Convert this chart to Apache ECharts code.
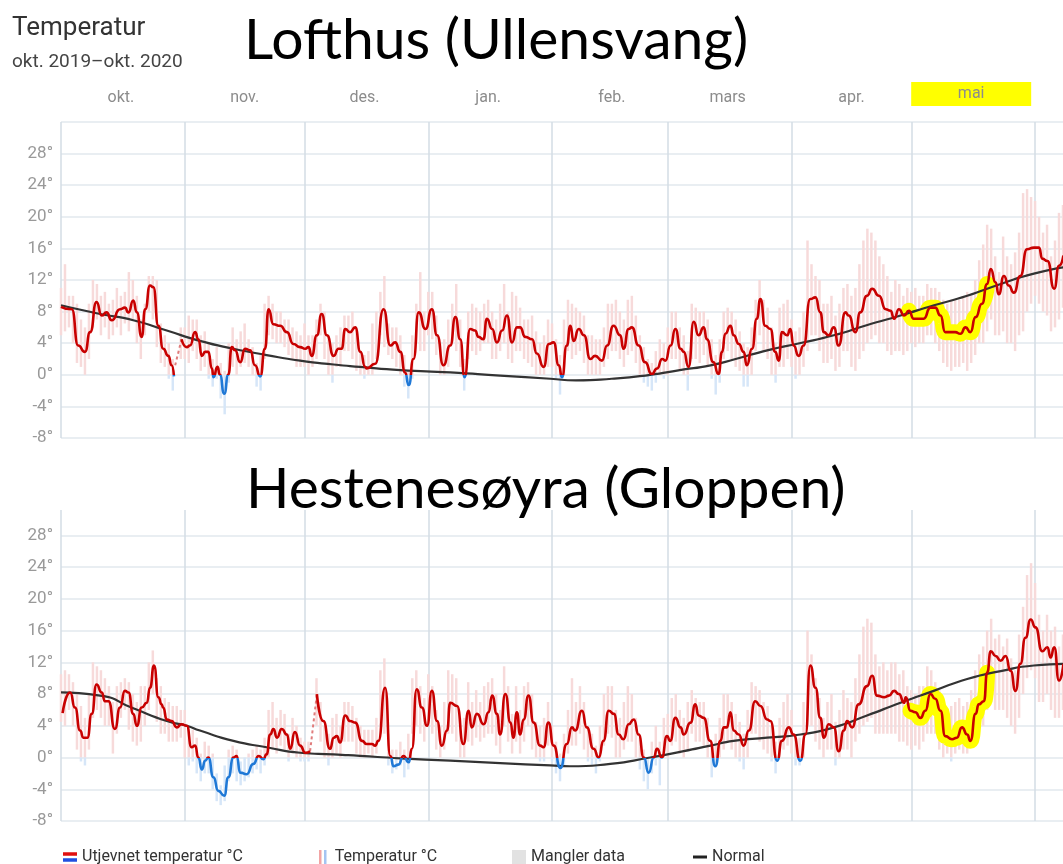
<!DOCTYPE html>
<html lang="no">
<head>
    <meta charset="UTF-8">
    <title>Temperatur - Lofthus og Hestenesøyra</title>
    <script src="https://cdn.jsdelivr.net/npm/echarts@6.0.0/dist/echarts.min.js"></script>
    <style>
        html, body { margin: 0; padding: 0; background: #fff; }
        #main { width: 1063px; height: 864px; }
    </style>
</head>
<body>
<div id="main"></div>
<script type="text/javascript">
    // dag 0 = 1. okt. 2019
    var nDays = 252;
    var monthNames = ['jan.', 'feb.', 'mars', 'apr.', 'mai', 'juni', 'juli', 'aug.', 'sep.', 'okt.', 'nov.', 'des.'];
    var mayRange = [212, 232.4];

    // Lofthus (Ullensvang): utjevnet temperatur [dag, grader]
    var lofSmooth = [[0,8.6],[2.7,8.3],[4.3,3.7],[6,2.9],[7.3,5.4],[8.9,9.2],[10.2,7.5],[11.4,7.9],[12.7,6.9],[14.8,8.3],[16,8.5],[16.9,7.9],[18.1,9.4],[19,7.9],[20.2,4.8],[21.1,8.3],[22.3,11.3],[23.1,11.1],[24.4,6.2],[25.6,3.3],[26.9,2.4],[27.7,1.2],[28.3,-0.2],[29,null],
        [30.2,4.5],[31.5,3.5],[32.3,3.7],[33.6,5.4],[34.4,4.5],[35.3,2.4],[36.1,2.9],[36.9,2.9],[37.8,0.8],[38.2,-0.3],[39.2,1.0],[39.8,0],[40.9,-2.4],[41.9,0],[42.8,3.5],[43.6,3.1],[44.9,1.6],[46.1,3.3],[47.4,3.1],[48.6,1.2],[49.9,-0.2],[51.1,3.3],[52,8.3],[53.2,6.4],[54.9,6.2],[56.6,5.4],[58.2,3.9],[59.9,3.5],
        [61.2,3.3],[62,3.5],[62.8,2.4],[64.1,5.0],[65.3,7.7],[66.6,5.0],[68.3,2.4],[69.5,3.3],[70.3,3.3],[71.2,5.8],[72.4,5.4],[73.7,6.0],[75,2.9],[76.2,1.0],[76.6,0.8],[78.7,1.4],[80.8,8.3],[82.5,3.7],[83.7,4.1],[85,2.9],[86.2,0.3],[87.1,-1.3],[88.3,2.0],[89.6,7.9],[91.3,5.8],
        [92.9,8.3],[94.2,5.0],[95.8,1.2],[97.5,3.7],[98.8,7.3],[100,4.5],[101.1,-0.3],[102.5,5.8],[103.7,5.6],[104.6,4.8],[105.8,4.5],[106.7,7.1],[108,5.8],[109.2,4.1],[110.5,5.6],[111.7,7.5],[113,4.1],[114.2,6.0],[115,6.0],[116.3,4.8],[118,4.5],[119.2,2.7],[120.9,1.0],[122.2,3.9],
        [123.4,4.1],[124.7,1.2],[125.5,-0.3],[126.7,3.7],[127.6,6.2],[128.4,4.3],[129.7,5.8],[131,5.0],[132.6,2.0],[133.8,2.4],[135.5,1.8],[136.8,3.7],[138.4,6.2],[140.1,5.0],[140.9,3.3],[142.2,5.8],[143,6.0],[144.7,3.7],[146.3,1.6],[148,0.1],[149.3,0.8],[150.6,2.0],[151.4,1.8],
        [152.7,3.7],[153.9,5.8],[155.2,3.3],[156,2.9],[157.2,1.0],[158.5,6.7],[159.7,5.0],[161,6.0],[161.8,4.5],[163.4,1.6],[164.7,0.1],[165.6,2.9],[166.4,5.2],[167.7,6.2],[168.5,5.0],[169.8,3.9],[171,2.9],[171.8,1.2],[173.1,3.3],[174.3,7.1],[175.2,9.6],[176.4,6.2],[177.7,5.8],[178.9,2.9],[179.8,1.8],[180.6,5.4],[181.9,5.0],[182.7,5.8],
        [183.5,3.7],[184.8,2.4],[186,3.7],[187.7,9.6],[189,9.8],[190.2,7.9],[191.1,5.4],[192.3,5.0],[193.6,6.0],[194.8,3.7],[196.5,7.9],[197.3,7.5],[199,5.4],[200.2,7.9],[201.9,10.0],[203.2,10.9],[204.9,10.0],[206.6,8.3],[207.8,8.1],[208.7,7.1],[209.9,8.3],[211.2,7.5],
        [212.4,8.1],[213.6,7.1],[214.9,7.1],[216.1,7.1],[217.8,8.5],[219,8.5],[220.3,7.5],[221.5,5.4],[222.8,5.4],[224,5.4],[225.3,5.2],[226.6,6.0],[227.8,5.4],[229.1,7.3],[230.7,9.0],[232,11.5],[232.9,13.4],[234.1,11.7],[234.9,10.2],[236.2,12.5],[237.4,11.3],[238.7,10.4],[240.3,12.5],[242,15.9],[243.7,16.1],
        [245,16.1],[245.8,14.7],[247.1,14.4],[248.8,10.9],[250,13.8],[251.1,15.1]];
    var lofGap = [[28.6,1.2],[30.2,4.5]];
    var lofNormal = [[0,8.8],[9.8,7.7],[18.1,6.9],[26.5,5.6],[34.8,4.3],[43.2,3.3],[51.5,2.5],[59.9,1.8],[68.3,1.3],[74.9,1.0],[85,0.6],[97.5,0.3],[110,-0.1],[122.6,-0.5],[129,-0.7],[138,-0.5],[147.6,0],[155,0.6],[162.7,1.2],[169,2.0],[176.9,3.1],[185,4.0],[193.6,5.0],[202,6.3],[210.3,7.5],[218.7,8.8],[227,10.0],[235.4,11.5],[243.7,12.8],[251.1,13.6]];
    // døgnets laveste / høyeste temperatur
    var lofLo = [5,5.5,6,4,1.5,1,0,2,6,7,5,6,4.5,5,6,5,6.5,5.5,7,4,2,5,8,7,3.5,1.5,1,-0.5,-2,null,2,
        2,1.5,3,2,0.5,1,-0.5,-1.5,-0.5,-3,-5,-1,1,0,1,1.5,1,0,-1.5,-2,2,5,4.5,4,4,3.5,2.5,2,1,1,
        1,0,1,2,5,2,0,-1,1,1,3,3,2,0.5,0,-0.5,0,0,2,5,3.5,2.5,2,1,0,-1.5,-3,-0.5,4,3,3,
        5,4.5,2.5,0,0,1,4,3,1,-2,2,3,2.5,3,4,4,2,2,3,4,2,1.5,3,3,2,1.5,1,0,0,0,1,
        1,-0.5,-2.5,0,3,2,2.5,3,1.5,0,0,0,0,1,2,3,3,2,1,2.5,3,1.5,0,-1,-1.5,-2,-1,0,-0.5,
        0,2,2,0.5,0,-2,2,2,1.5,2.5,1,-0.5,-2.5,-1,2,3,2,1,0.5,-1.5,-1.5,0,3,5,3,2,0,-1,1,1,2,
        1,-0.5,0,1,3,5,5,3,1.5,1.5,2,0.5,1,3,3,1,0.5,2,3,4,4.5,5,4,4,3,2.5,3,3,2.5,3,
        4,3.5,4,4,5,5,4,3,1.5,1,0.5,1,1,1.5,0.5,1.5,2.5,4,4,5.5,7,5,5,5.5,4,4,3,5,5.5,8,9,
        10,9,8,7.5,5.5,6,7,8.5];
    var lofHi = [11,14,10,10,9,7,6,9,12,11.5,10,10.5,9,9.5,11,10,10.5,13,12,10,7,9,12.5,12.5,12,6.5,5,4,2,null,6,
        6,7.5,7,7,5,5.5,4,2,3.5,1.5,0.5,4,6,4.5,5.5,6.5,4.5,3.5,1.5,2.5,9,10,9,8,8,7,7,6,5.5,5,
        6.5,5,5,7,9,8,5,4,5,6,7.5,7.5,8,6,3,2.5,3,6.5,8,10.5,12.5,6.5,6,6,5,2.5,0.5,5,9,13,8,
        10.5,10.5,7.5,4,4.5,7,9,11.5,7,2,8,9,8.5,8,9,9.5,8,7,9,11.5,8,10.5,10,8.5,7,7,7.5,5.5,4,5,7,
        6.5,4.5,2.5,7,9.5,9,8.5,8,7.5,5,5,4.5,4.5,6,9,9,9.5,8,7,9.5,10,7.5,5,3.5,2,1.5,3,4.5,4,
        6,8,8,6,5,3,9,8.5,8,8,7,4.5,2.5,4.5,8,8.5,8,7,5.5,4,3.5,6,9.5,12,9.5,8.5,6,4,8.5,9,9.5,
        7,5.5,6,8,17,14,12.5,12,9,9,10,7.5,9,11,11.5,10,11,14,17,18.5,18,17,15,14,12.5,10.5,12,11.5,10,11,
        10.5,11,10,10,11.5,11,11,10.5,9.5,9,9.5,9.5,9.5,10,10.5,10,12,14.5,16.5,19,18.5,15,13,17.5,15,14,15.5,18,23,23.5,22.5,
        22,20,18,19,15,17,20.5,21.5];

    // Hestenesøyra (Gloppen)
    var hesSmooth = [[0.4,5.6],[2.3,8.2],[3.5,6.3],[4.8,3.4],[5.6,2.5],[6.6,2.5],[7.7,5.5],[8.9,9.2],[10.2,8.2],[11,7.1],[11.9,7.1],[13.5,3.6],[14.8,6.3],[16,8.4],[16.9,8.2],[18.1,5.5],[19,4.0],[20.2,6.3],[21.5,6.9],[22.3,8.8],[23.3,11.6],[24.4,7.6],[25.2,6.7],[25.6,6.3],[26.5,4.8],[27.7,4.6],[29,3.8],[30.2,4.2],
        [31.5,4.0],[32.7,1.3],[33.6,1.5],[34.4,0],[35.3,-1.5],[36.1,-0.4],[36.9,0],[38.2,-2.5],[39.4,-4.2],[40.9,-4.8],[41.9,-2.5],[43.2,0],[44,0.2],[44.9,-1.9],[46.5,-2.1],[48.2,-0.8],[49.5,0.2],[50.7,-0.2],[51.5,0.4],[52.4,2.9],[53.2,3.6],[54.1,2.5],[55.3,3.6],[56.6,2.9],[57.4,1.1],[58.6,3.2],[59.9,1.5],
        [61.2,0.6],[62.4,0.8],[63,null],[64.1,8.0],[65.7,4.6],[67.4,1.1],[68.3,2.5],[69.1,2.7],[69.9,1.9],[71.2,5.3],[72.4,4.6],[73.7,4.4],[75.4,2.1],[76.6,1.7],[77.9,1.7],[78.7,1.5],[79.5,2.1],[81.2,8.8],[82.5,0.2],[83.3,-1.1],[84.5,-0.9],[85.8,0.2],[87.1,-0.6],[87.9,1.1],[89.1,8.6],[90.4,6.3],[91.7,4.0],
        [92.9,8.4],[94.2,4.6],[95.4,1.5],[96.7,3.4],[97.5,6.9],[99.2,6.5],[100.8,1.7],[102.1,5.9],[102.9,3.8],[104.2,5.5],[105.9,4.2],[107.1,5.7],[108,7.8],[109.2,5.5],[110,2.9],[111.3,8.0],[112.6,4.4],[113.3,2.5],[114.2,5.7],[115,2.9],[115.9,4.8],[117.1,7.8],[118.4,4.4],[120,1.5],[120.9,1.3],[122.1,4.4],
        [123.4,1.5],[125.1,-1.3],[126.7,1.7],[128,3.8],[128.8,3.4],[130.5,5.9],[131.7,3.8],[133.4,1.1],[134.7,0],[135.9,2.1],[137.2,5.9],[138.5,5.5],[139.7,2.9],[140.9,2.3],[142.2,4.2],[143.5,4.8],[144.7,2.9],[146,0],[147.2,-1.9],[148.5,0],[149.3,1.1],[150.5,0],[151.8,2.7],
        [152.6,2.1],[153.9,5.0],[155.2,3.8],[156,2.9],[157.7,4.4],[158.9,6.7],[159.7,5.3],[161,5.0],[162.6,2.1],[163.9,-1.1],[165.2,2.1],[166,3.8],[166.8,3.8],[167.7,5.7],[168.5,3.4],[169.8,2.9],[171,1.5],[172.3,3.4],[173.9,7.1],[175.2,6.5],[176.9,4.8],[177.7,4.6],[179.4,-0.4],[180.6,2.1],[182.3,3.8],
        [183.5,2.9],[185.2,-0.4],[186.5,2.9],[187.7,11.6],[189,8.8],[190.2,5.0],[191.1,2.5],[192.3,4.2],[193.6,3.8],[194.8,0.8],[196.1,3.4],[196.9,4.6],[198.2,3.8],[199.8,6.7],[201.9,9.0],[203.2,10.3],[204.4,7.8],[206.2,7.6],[207.4,7.8],[208.7,8.4],[209.9,8.0],[211.2,6.9],[211.6,7.6],
        [212.8,5.9],[214,5.7],[215.3,5.0],[216.5,5.9],[217.8,8.0],[219,7.4],[220.3,5.9],[221.5,2.7],[223.2,2.3],[224.4,2.5],[225.7,3.8],[227,2.9],[227.8,2.1],[229.1,5.5],[229.9,6.7],[231.2,7.1],[232,10.7],[232.9,13.4],[234.1,12.8],[235.4,12.2],[236.6,12.8],[237.9,10.9],[239.1,8.4],[240.3,11.8],[241.6,15.1],[242.9,17.4],
        [244.1,16.4],[245.8,13.4],[247.1,13.9],[247.9,12.6],[248.8,13.9],[250,9.7],[251.1,11.8]];
    var hesGap = [[62.4,0.8],[64.1,8.0]];
    var hesNormal = [[0,8.2],[9.8,7.8],[18.1,6.2],[26.5,4.6],[31.5,4.0],[34.8,3.4],[43.2,2.1],[51.5,1.3],[59.9,0.6],[68.3,0.4],[74.9,0.2],[85,-0.1],[97.5,-0.4],[110,-0.7],[122.6,-1.0],[127.5,-1.1],[137.6,-0.8],[147.6,0],[156,0.8],[162.7,1.5],[168.5,2.1],[176.9,2.5],[185.2,2.9],[193.6,3.8],[201.9,5.3],[210.3,6.9],[218.6,8.4],[227,9.9],[235.4,10.9],[243.7,11.6],[251.1,11.8]];
    var hesLo = [4.5,4,6,4,1,-0.5,-1,1,5,6,5,4,4,0.5,3,5,6,3.5,2,1.5,2,4,6,8,4.5,3,3,2,2,2,2.5,
        0,-1,-0.5,-2,-3,-2,-2,-4,-5.5,-6,-5.5,-3,-2,-3,-3.5,-3,-2.5,-2,-1.5,-2,-1,0,1,0.5,1.5,1,-0.5,0.5,0,-0.5,
        -0.5,-0.5,null,4,2,0,-1,0,0.5,0,2,2,2,0.5,0,0,0.5,0,0.5,4,3,-1,-2,-1.5,-1,-2.5,-1.5,3,4,3,2,
        4,3,1,0,1,3,3,2,0,0,2,1.5,2.5,2,2.5,3,3,1.5,0.5,4,2,0.5,2,0.5,2,4,1,0,-0.5,-0.5,1.5,
        -0.5,-2,-3,-1,0.5,1.5,1.5,3,1,-0.5,-1,-2,-0.5,1.5,3,2.5,0,0,1,2,2,0,-1.5,-3,-4,-2,-1,-3.5,0,
        0,1.5,2,0.5,0,1,3,2,2,1.5,0,-2.5,-1,0,1,2,1,0,-0.5,-1.5,0,3,3,2,1,0.5,-0.5,-2,0,1,1.5,
        0.5,-1,-1,0,4,4,2,1,0,1,1,-1,0,1,1,0,2,3,4,4.5,5,3,3,3,3,3,3,2,2,1.5,
        1,1.5,1,2,3,3,3,1,0,0.5,-0.5,0.5,1,0.5,0.5,2,3,4,4,6,7,6,6,6,5,4,3,5,8,10,11,
        10,7,7,8,6,5,5,6];
    var hesHi = [10.5,11,10.5,9.5,8,6.5,5,8,12,11.5,11,10,9,7,9,9.5,10,9.5,8,7,9,9,12,13.5,10,9,7.5,7,6.5,6.5,6,
        6,4,3.5,2.5,0.5,2,1.5,0.5,-2,-3.5,-1,1,1.5,1,-0.5,0,0.5,1,1.5,1,2.5,6,7,5,6,5.5,3,5,4,2.5,
        2,2,null,10,7,4,3,5,5.5,4,7,7,6.5,5,4,3.5,3.5,3.5,5,11,12.5,3,1,1,2,1,3,10,11,9,7.5,
        10.5,9,6,4,7,11,10.5,10,5,5,9.5,7,8.5,7,9,9.5,10,8,6,11.5,9,5.5,9,6,9,9.5,8,4.5,4,5,7,
        4,2,0.5,3,6,10,7,9,7,4,3,1.5,4,8,9,9,6,5,7,9,8,5,2.5,1,0,2,4,2,5,
        5.5,7.5,8,6,5,7,8.5,7.5,7,7,5,2,3,5,8,8,7,5.5,4.5,3,6,9.5,9,8.5,7,6.5,4,2,5,7,8,
        6,3,2.5,7,16,13,10,7.5,5,7,8,4.5,6,8.5,7.5,7,10,13,16.5,17.5,17,13,11.5,12,11,12,12,10.5,11,9,
        8.5,8,9,9,11.5,11,9.5,8.5,6,6,6.5,7,7.5,6.5,7,8.5,11,13,14,16,17.5,15,15.5,14,15,12.5,11,15.5,19,23,24.5,
        22,18,16,18,16,16.5,14,15.5];

    var font = 'Roboto, "Liberation Sans", Arial, sans-serif';
    var warm = '#c80000', cold = '#1f78d6';
    var days = [];
    for (var i = 0; i < nDays; i++) {
        days.push(new Date(2019, 9, 1 + i));
    }
    var dayCats = days.map(function (d) {
        return d.getFullYear() + '-' + (d.getMonth() + 1) + '-' + d.getDate();
    });

    function rangeData(lo, hi) {
        var out = [];
        for (var i = 0; i < lo.length; i++) {
            if (lo[i] != null && hi[i] != null) out.push([i, lo[i], hi[i]]);
        }
        return out;
    }
    function mayPart(points) {
        return points.filter(function (p) {
            return p[1] != null && p[0] >= mayRange[0] && p[0] <= mayRange[1];
        });
    }
    function renderRange(params, api) {
        var x = api.value(0), lo = api.value(1), hi = api.value(2);
        var w = api.size([1, 0])[0] * 0.62;
        var cx = api.coord([x, 0])[0];
        var y0 = api.coord([x, 0])[1];
        var yLo = api.coord([x, lo])[1];
        var yHi = api.coord([x, hi])[1];
        var kids = [];
        if (hi > 0) {
            var bot = lo > 0 ? yLo : y0;
            kids.push({type: 'rect', shape: {x: cx - w / 2, y: yHi, width: w, height: bot - yHi}, style: {fill: '#f7dada'}});
        }
        if (lo < 0) {
            var top = hi < 0 ? yHi : y0;
            kids.push({type: 'rect', shape: {x: cx - w / 2, y: top, width: w, height: yLo - top}, style: {fill: '#d6e6f8'}});
        }
        return {type: 'group', children: kids};
    }

    function xCat(grid, labels) {
        return {
            type: 'category', gridIndex: grid, data: dayCats, boundaryGap: false, position: 'top',
            axisLine: {show: false}, axisTick: {show: false},
            axisLabel: labels ? {
                show: true, margin: 16, color: '#8c8c8c', fontSize: 16, fontFamily: font,
                interval: function (i) { return days[i].getDate() === 16; },
                formatter: function (v, i) {
                    var m = monthNames[days[i].getMonth()];
                    return m === 'mai' ? '{hl|' + m + '}' : m;
                },
                rich: {hl: {backgroundColor: '#ffff00', width: 120, height: 24, align: 'center', color: '#8c8c8c', fontSize: 16, fontFamily: font}}
            } : {show: false},
            splitLine: {
                show: true,
                interval: function (i) { return days[i].getDate() === 1; },
                lineStyle: {color: '#d3dce5', width: 1.5}
            }
        };
    }
    function xVal(grid) {
        return {type: 'value', gridIndex: grid, min: 0, max: nDays - 1, show: false};
    }
    function yAx(grid, max) {
        return {
            type: 'value', gridIndex: grid, min: -8, max: max, interval: 4,
            axisLine: {show: false}, axisTick: {show: false},
            axisLabel: {
                color: '#999', fontSize: 17, fontFamily: font, margin: 8, showMaxLabel: false,
                formatter: function (v) { return (v % 4 === 0 && v < 32) ? v + '°' : ''; }
            },
            splitLine: {lineStyle: {color: '#e2e8ee', width: 1.5}, showMaxLine: grid === 0}
        };
    }
    function barSeries(lo, hi, xi, yi) {
        return {type: 'custom', name: 'Temperatur °C', xAxisIndex: xi, yAxisIndex: yi, data: rangeData(lo, hi),
            encode: {x: 0, y: [1, 2]}, renderItem: renderRange, silent: true, z: 1};
    }
    function yellowSeries(points, xi, yi) {
        return {type: 'line', name: 'mai', xAxisIndex: xi, yAxisIndex: yi, data: mayPart(points), smooth: 0.6,
            smoothMonotone: 'x', symbol: 'none', silent: true, z: 2,
            lineStyle: {color: '#ffff00', width: 16, cap: 'round', join: 'round'}};
    }
    function normalSeries(points, xi, yi) {
        return {type: 'line', name: 'Normal', xAxisIndex: xi, yAxisIndex: yi, data: points, smooth: 0.6, symbol: 'none',
            lineStyle: {color: '#333', width: 2.2}, itemStyle: {color: '#333'}, z: 4};
    }
    function gapSeries(points, xi, yi) {
        return {type: 'line', name: 'Mangler data', xAxisIndex: xi, yAxisIndex: yi, data: points, symbol: 'none',
            lineStyle: {color: '#e07c7c', width: 2, type: [3, 3]}, itemStyle: {color: '#ddd'}, z: 3};
    }
    function smoothSeries(id, points, xi, yi) {
        return {type: 'line', id: id, name: 'Utjevnet temperatur °C', xAxisIndex: xi, yAxisIndex: yi, data: points,
            smooth: 0.6, smoothMonotone: 'x', symbol: 'none', lineStyle: {width: 2.6, color: warm, join: 'round'}, itemStyle: {color: warm}, z: 5};
    }
    function leg(name, left, icon, color) {
        return {
            left: left, top: 849, padding: 0, itemWidth: 14, itemHeight: 14, selectedMode: false,
            textStyle: {color: '#333', fontSize: 16, fontFamily: font},
            data: [{name: name, icon: icon, itemStyle: {color: color}}]
        };
    }
    // red over 0 degrees, blue under: gradient split at the pixel row of 0 on the given y axis
    function zeroSplit(chart, yAxisIndex) {
        var y0 = chart.convertToPixel({yAxisIndex: yAxisIndex}, 0);
        return {type: 'linear', x: 0, y: y0 - 1, x2: 0, y2: y0 + 1, global: true,
            colorStops: [{offset: 0, color: warm}, {offset: 0.5, color: warm}, {offset: 0.5, color: cold}, {offset: 1, color: cold}]};
    }

    var chartDom = document.getElementById('main');
    var myChart = echarts.init(chartDom);
    var option;

    option = {
        animation: false,
        backgroundColor: '#fff',
        title: [
            {text: 'Temperatur', subtext: 'okt. 2019–okt. 2020', left: 12, top: 15, padding: 0, itemGap: 12,
                textStyle: {color: '#333', fontSize: 26, fontWeight: 'normal', fontFamily: font},
                subtextStyle: {color: '#444', fontSize: 19, fontFamily: font}},
            {text: 'Lofthus (Ullensvang)', left: 244, top: 12, padding: 0,
                textStyle: {color: '#000', fontSize: 57, fontWeight: 'normal', fontFamily: 'Lato'}},
            {text: 'Hestenesøyra (Gloppen)', left: 246, top: 461, padding: 0,
                textStyle: {color: '#000', fontSize: 57, fontWeight: 'normal', fontFamily: 'Lato'}}
        ],
        legend: [
            leg('Utjevnet temperatur °C', 63, 'path://M0,0H14V3.5H0Z M0,6H14V9.5H0Z',
                {type: 'linear', x: 0, y: 0, x2: 0, y2: 1, colorStops: [{offset: 0, color: '#e01010'}, {offset: 0.5, color: '#e01010'}, {offset: 0.5, color: '#2050e0'}, {offset: 1, color: '#2050e0'}]}),
            leg('Temperatur °C', 319, 'path://M0,0H2.5V14H0Z M5,0H7.5V14H5Z',
                {type: 'linear', x: 0, y: 0, x2: 1, y2: 0, colorStops: [{offset: 0, color: '#f2a4a4'}, {offset: 0.5, color: '#f2a4a4'}, {offset: 0.5, color: '#a4c4f2'}, {offset: 1, color: '#a4c4f2'}]}),
            leg('Mangler data', 512, 'path://M0,0H12V12H0Z', '#e2e2e2'),
            leg('Normal', 693, 'path://M0,0H14V3H0Z', '#222')
        ],
        grid: [
            {left: 61, right: 0, top: 122, height: 316},
            {left: 61, right: 0, top: 510, height: 311}
        ],
        xAxis: [xCat(0, true), xVal(0), xCat(1, false), xVal(1)],
        yAxis: [yAx(0, 32), yAx(1, 31.2)],
        series: [
            barSeries(lofLo, lofHi, 1, 0),
            barSeries(hesLo, hesHi, 3, 1),
            yellowSeries(lofSmooth, 1, 0),
            yellowSeries(hesSmooth, 3, 1),
            normalSeries(lofNormal, 1, 0),
            normalSeries(hesNormal, 3, 1),
            gapSeries(lofGap, 1, 0),
            gapSeries(hesGap, 3, 1),
            smoothSeries('lofLine', lofSmooth, 1, 0),
            smoothSeries('hesLine', hesSmooth, 3, 1)
        ]
    };

    option && myChart.setOption(option);
    myChart.setOption({
        series: [
            {id: 'lofLine', lineStyle: {color: zeroSplit(myChart, 0)}},
            {id: 'hesLine', lineStyle: {color: zeroSplit(myChart, 1)}}
        ]
    });
    window.addEventListener("resize", function () {
        myChart.resize();
    });
</script>
</body>
</html>
